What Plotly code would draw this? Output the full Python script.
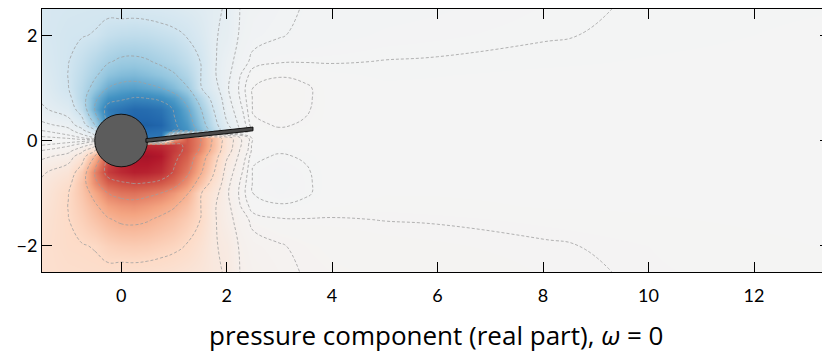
import plotly.graph_objects as go

# grid nodes (x along the channel, y across)
x_nodes = [-1.5, -1.0, -0.75, -0.5, -0.25, 0.0, 0.25, 0.5, 0.75, 1.0, 1.25, 1.5,
           1.75, 2.0, 2.25, 2.5, 3.0, 3.5, 4.0, 5.0, 6.0, 8.0, 10.0, 13.5]
y_nodes = [-2.5, -2.0, -1.5, -1.25, -1.0, -0.8, -0.6, -0.3, -0.2, -0.08,
           0.04, 0.2, 0.3, 0.6, 0.8, 1.0, 1.25, 1.5, 2.0, 2.5]

# pressure values, one list per y row (bottom to top)
p_ym250 = [0.165, 0.175, 0.178, 0.18, 0.18, 0.17, 0.17, 0.165, 0.16, 0.15, 0.135, 0.12, 0.1, 0.085, 0.04, 0.028, 0.02, 0.0135, 0.012, 0.01, 0.009, 0.0065, 0.0042, 0.003]
p_ym200 = [0.16, 0.19, 0.195, 0.205, 0.235, 0.25, 0.255, 0.25, 0.235, 0.22, 0.195, 0.15, 0.095, 0.08, 0.035, 0.022, 0.016, 0.012, 0.01, 0.008, 0.0072, 0.0055, 0.004, 0.002]
p_ym150 = [0.14, 0.198, 0.24, 0.29, 0.34, 0.37, 0.375, 0.36, 0.33, 0.3, 0.255, 0.2, 0.1, 0.055, 0.025, 0.01, 0.006, 0.0055, 0.0055, 0.0048, 0.0045, 0.0035, 0.0025, 0.0013]
p_ym125 = [0.125, 0.202, 0.26, 0.33, 0.41, 0.44, 0.45, 0.43, 0.4, 0.36, 0.3, 0.205, 0.1, 0.05, 0.016, 0.0, -0.004, -0.002, 0.002, 0.0035, 0.003, 0.002, 0.0018, 0.001]
p_ym100 = [0.11, 0.198, 0.28, 0.39, 0.5, 0.54, 0.55, 0.53, 0.5, 0.44, 0.36, 0.21, 0.12, 0.045, 0.012, -0.005, -0.009, -0.0065, 0.0, 0.002, 0.002, 0.0015, 0.0013, 0.0008]
p_ym080 = [0.1, 0.17, 0.29, 0.47, 0.6, 0.64, 0.66, 0.65, 0.62, 0.56, 0.45, 0.3, 0.16, 0.05, 0.015, -0.006, -0.01, -0.0065, -0.0005, 0.0015, 0.0015, 0.001, 0.001, 0.0006]
p_ym060 = [0.08, 0.13, 0.26, 0.5, 0.7, 0.75, 0.78, 0.77, 0.74, 0.64, 0.53, 0.37, 0.21, 0.06, 0.02, -0.006, -0.01, -0.006, -0.0005, 0.001, 0.001, 0.0008, 0.0008, 0.0004]
p_ym030 = [0.03, 0.055, 0.13, 0.35, 0.65, 0.78, 0.82, 0.83, 0.8, 0.68, 0.6, 0.43, 0.26, 0.1, 0.03, -0.003, -0.006, -0.004, -0.0005, 0.0005, 0.0005, 0.0005, 0.0004, 0.0002]
p_ym020 = [0.016, 0.03, 0.07, 0.2, 0.6, 0.75, 0.78, 0.8, 0.78, 0.7, 0.62, 0.48, 0.3, 0.12, 0.038, 0.0, -0.004, -0.0025, -0.0003, 0.0003, 0.0003, 0.0003, 0.0002, 0.0001]
p_ym008 = [0.004, 0.01, 0.02, 0.05, 0.5, 0.72, 0.74, 0.75, 0.74, 0.7, 0.62, 0.5, 0.32, 0.13, 0.045, 0.0, -0.002, -0.001, 0.0, 0.0, 0.0, 0.0, 0.0, 0.0]
p_yp004 = [-0.002, -0.005, -0.01, -0.02, -0.4, -0.7, -0.72, -0.72, -0.72, 0.35, 0.62, 0.5, 0.32, 0.13, 0.045, 0.002, 0.001, 0.0005, 0.0, 0.0, 0.0, 0.0, 0.0, 0.0]
p_yp020 = [-0.016, -0.03, -0.07, -0.2, -0.6, -0.75, -0.78, -0.78, -0.76, -0.68, -0.6, -0.45, -0.28, -0.12, -0.035, 0.0, 0.004, 0.0025, 0.0003, -0.0003, -0.0003, -0.0003, -0.0002, -0.0001]
p_yp030 = [-0.03, -0.055, -0.13, -0.35, -0.65, -0.78, -0.82, -0.82, -0.8, -0.67, -0.58, -0.42, -0.25, -0.1, -0.03, 0.003, 0.006, 0.004, 0.0005, -0.0005, -0.0005, -0.0005, -0.0004, -0.0002]
p_yp060 = [-0.08, -0.13, -0.26, -0.5, -0.7, -0.74, -0.78, -0.77, -0.74, -0.64, -0.52, -0.36, -0.2, -0.06, -0.02, 0.006, 0.01, 0.006, 0.0005, -0.001, -0.001, -0.0008, -0.0008, -0.0004]
p_yp080 = [-0.1, -0.17, -0.29, -0.47, -0.6, -0.63, -0.66, -0.65, -0.62, -0.56, -0.45, -0.3, -0.16, -0.05, -0.015, 0.006, 0.01, 0.0065, 0.0005, -0.0015, -0.0015, -0.001, -0.001, -0.0006]
p_yp100 = [-0.11, -0.198, -0.28, -0.39, -0.5, -0.54, -0.55, -0.53, -0.5, -0.44, -0.36, -0.21, -0.12, -0.045, -0.012, 0.005, 0.009, 0.0065, 0.0, -0.002, -0.002, -0.0015, -0.0013, -0.0008]
p_yp125 = [-0.125, -0.202, -0.26, -0.33, -0.41, -0.44, -0.45, -0.43, -0.4, -0.36, -0.3, -0.205, -0.1, -0.05, -0.016, 0.0, 0.004, 0.002, -0.002, -0.0035, -0.003, -0.002, -0.0018, -0.001]
p_yp150 = [-0.14, -0.198, -0.24, -0.29, -0.34, -0.37, -0.375, -0.36, -0.33, -0.3, -0.255, -0.2, -0.1, -0.055, -0.025, -0.01, -0.006, -0.0055, -0.0055, -0.0048, -0.0045, -0.0035, -0.0025, -0.0013]
p_yp200 = [-0.16, -0.19, -0.195, -0.205, -0.235, -0.25, -0.255, -0.25, -0.235, -0.22, -0.195, -0.15, -0.095, -0.08, -0.035, -0.022, -0.016, -0.012, -0.01, -0.008, -0.0072, -0.0055, -0.004, -0.002]
p_yp250 = [-0.165, -0.175, -0.178, -0.18, -0.18, -0.17, -0.17, -0.165, -0.16, -0.15, -0.135, -0.12, -0.1, -0.085, -0.04, -0.028, -0.02, -0.0135, -0.012, -0.01, -0.009, -0.0065, -0.0042, -0.003]

contour_levels = [-0.65, -0.5, -0.35, -0.2, -0.09, -0.04, -0.015, -0.005,
                  0.005, 0.015, 0.04, 0.09, 0.2, 0.35, 0.5, 0.65]

# body geometry
cylinder_center = (0.0, 0.0)
cylinder_radius = 0.5
flag_root = (0.5, 0.0)
flag_tip = (2.5, 0.22)
flag_half_thickness = 0.035

x_ticks = [0, 2, 4, 6, 8, 10, 12]
y_ticks = [-2, 0, 2]
title_text = "pressure component (real part), <i>ω</i> = 0"

z = [p_ym250, p_ym200, p_ym150, p_ym125, p_ym100, p_ym080, p_ym060, p_ym030, p_ym020, p_ym008,
     p_yp004, p_yp020, p_yp030, p_yp060, p_yp080, p_yp100, p_yp125, p_yp150, p_yp200, p_yp250]

rdbu_r = [[0.0, "#053061"], [0.1, "#2166ac"], [0.2, "#4393c3"], [0.3, "#92c5de"],
          [0.4, "#d1e5f0"], [0.5, "#f4f4f4"], [0.6, "#fddbc7"], [0.7, "#f4a582"],
          [0.8, "#d6604d"], [0.9, "#b2182b"], [1.0, "#67001f"]]

fig = go.Figure()
fig.add_trace(go.Heatmap(x=x_nodes, y=y_nodes, z=z, zmin=-1, zmax=1,
                         colorscale=rdbu_r, zsmooth="best", showscale=False,
                         hoverinfo="skip"))
for lev in contour_levels:
    fig.add_trace(go.Contour(x=x_nodes, y=y_nodes, z=z, autocontour=False,
                             contours=dict(start=lev, end=lev, size=1, coloring="none"),
                             line=dict(color="#a0a0a0", width=0.8, dash="3px,2px", smoothing=1.3),
                             showscale=False, hoverinfo="skip"))

cx, cy = cylinder_center
fig.add_shape(type="circle", xref="x", yref="y",
              x0=cx - cylinder_radius, x1=cx + cylinder_radius,
              y0=cy - cylinder_radius, y1=cy + cylinder_radius,
              fillcolor="#5c5c5c", line=dict(color="#111111", width=1))
(fx0, fy0), (fx1, fy1) = flag_root, flag_tip
h = flag_half_thickness
path = (f"M {fx0 - 0.03},{fy0 - h} L {fx1},{fy1 - h} L {fx1},{fy1 + h} "
        f"L {fx0 - 0.03},{fy0 + h} Z")
fig.add_shape(type="path", xref="x", yref="y", path=path,
              fillcolor="#4a4a4a", line=dict(color="#111111", width=1))

tick_font = dict(family="Lato, Roboto, sans-serif", size=18, color="#000000")
axis_common = dict(showgrid=False, zeroline=False, showline=True, mirror="ticks",
                   linecolor="#000000", linewidth=1, ticks="inside", ticklen=10,
                   tickwidth=1, tickcolor="#000000", tickfont=tick_font,
                   automargin=False)
fig.update_xaxes(range=[-1.5, 13.44], tickvals=x_ticks, ticklabelstandoff=7, **axis_common)
fig.update_yaxes(range=[-2.5, 2.5], tickvals=y_ticks, **axis_common)

fig.add_annotation(text=title_text, xref="paper", yref="paper", x=0.5, y=-0.2395,
                   yanchor="middle", showarrow=False,
                   font=dict(family="Open Sans, Lato, sans-serif", size=26, color="#000000"))

# the page adds an 8 px body margin, so the figure is sized to leave room for it
fig.update_layout(width=822, height=344, margin=dict(l=34, r=0, t=1, b=80),
                  paper_bgcolor="#ffffff", plot_bgcolor="#f4f4f4", showlegend=False)
fig.write_html("out.html")
